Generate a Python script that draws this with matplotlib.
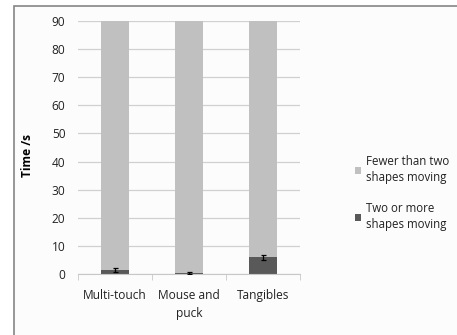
import matplotlib.pyplot as plt
from matplotlib.patches import Rectangle
import numpy as np

plt.rcParams['font.family'] = ['Open Sans', 'DejaVu Sans']

categories = ["Multi-touch", "Mouse and\npuck", "Tangibles"]
two_or_more = [1.5, 0.3, 6.0]
two_or_more_err = [0.7, 0.3, 0.9]
total_time = [90, 90, 90]
fewer_than_two = [t - v for t, v in zip(total_time, two_or_more)]

fig = plt.figure(figsize=(4.57, 3.35), dpi=100)
fig.patch.set_facecolor("white")
# outer chart frame (top and left edges visible)
frame = Rectangle((14 / 457, -0.1), 1.0, 1 - 6 / 335 + 0.1,
                  transform=fig.transFigure, facecolor="#fcfcfc",
                  edgecolor="#858585", lw=1.2, zorder=-10)
fig.add_artist(frame)

ax = fig.add_axes([78 / 457, 1 - 274 / 335, 222 / 457, 253 / 335])
ax.set_zorder(5)
ax.set_facecolor("none")
x = np.arange(len(categories))
w = 0.39
ax.bar(x, two_or_more, w, color="#595959", label="Two or more\nshapes moving",
       zorder=2)
ax.bar(x, fewer_than_two, w, bottom=two_or_more, color="#c0c0c0",
       label="Fewer than two\nshapes moving", zorder=2)
ax.errorbar(x, two_or_more, yerr=two_or_more_err, fmt="none", ecolor="black",
            elinewidth=0.9, capsize=1.8, capthick=0.9, zorder=3)

ax.set_xlim(-0.5, 2.5)
ax.set_ylim(0, 90)
ax.set_yticks(range(0, 91, 10))
ax.yaxis.grid(True, color="#d0d0d0", lw=0.9, zorder=0)
ax.set_axisbelow(True)
for s in ["top", "right", "left"]:
    ax.spines[s].set_visible(False)
ax.spines["bottom"].set_color("#c8c8c8")
ax.set_xticks(x)
ax.set_xticklabels(categories, fontsize=8.6, color="#222222", linespacing=1.5)
ax.set_xticks([-0.5, 0.5, 1.5, 2.5], minor=True)
ax.tick_params(axis="x", which="major", length=0, pad=11)
ax.tick_params(axis="x", which="minor", length=4, color="#c8c8c8")
ax.tick_params(axis="y", length=0, labelsize=8.6, labelcolor="#222222", pad=9)
ax.set_ylabel("Time /s", fontsize=8.6, fontweight="bold")
ax.yaxis.set_label_coords(-0.20, 0.47)

handles, labels = ax.get_legend_handles_labels()
leg = ax.legend(handles[::-1], labels[::-1], loc="center left",
                bbox_to_anchor=(1.2, 0.32), frameon=False, fontsize=8.3,
                handlelength=0.55, handleheight=0.55, handletextpad=0.45,
                labelspacing=1.5, labelcolor="#222222")
for t in leg.get_texts():
    t.set_linespacing(1.35)

fig.savefig("out.png", dpi=100)
